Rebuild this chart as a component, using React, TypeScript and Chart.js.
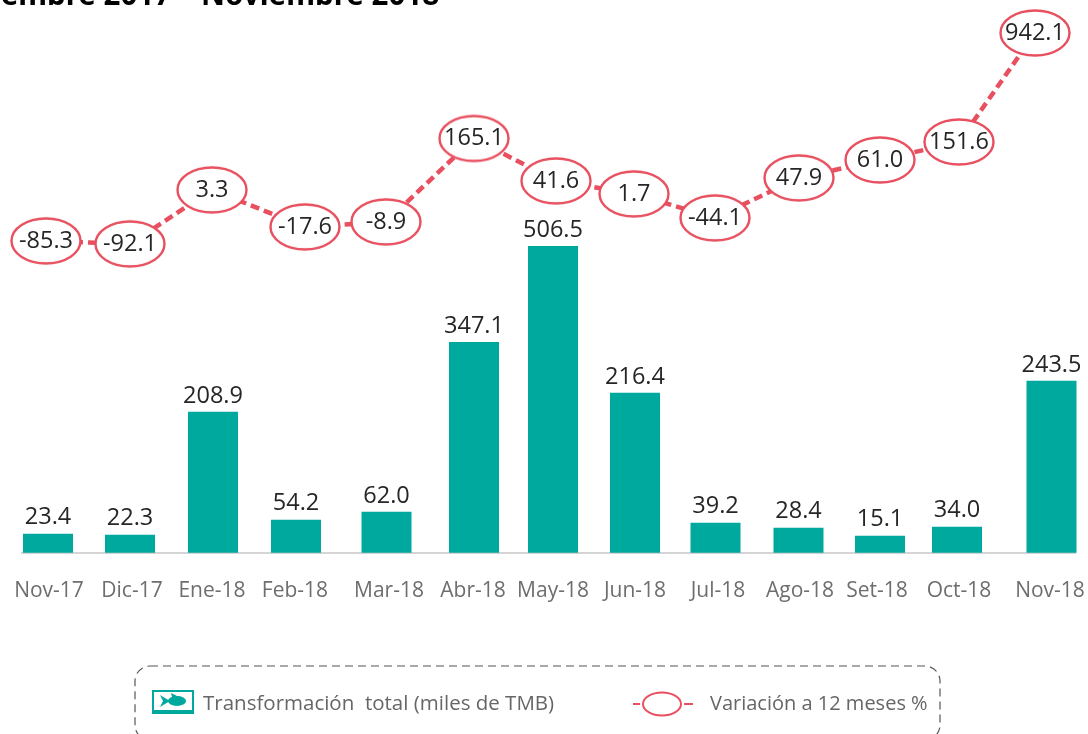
import React, { useEffect, useRef } from "react";
import { Chart, registerables, CategoryScale, LinearScale } from "chart.js";

const months = ["Nov-17", "Dic-17", "Ene-18", "Feb-18", "Mar-18", "Abr-18", "May-18", "Jun-18", "Jul-18", "Ago-18", "Set-18", "Oct-18", "Nov-18"];
const transformacion = [23.4, 22.3, 208.9, 54.2, 62.0, 347.1, 506.5, 216.4, 39.2, 28.4, 15.1, 34.0, 243.5];
const variacion = [-85.3, -92.1, 3.3, -17.6, -8.9, 165.1, 41.6, 1.7, -44.1, 47.9, 61.0, 151.6, 942.1];

// The reference is an infographic: its marks are not proportional to the printed
// values. These tables hold, per month, the height each mark has in the picture.
const barHeightsInPicture = [19, 18, 141, 33, 41, 211, 307, 160, 30, 25, 17, 26, 172];
const lineHeightsInPicture = [312, 309, 363, 326, 331, 414.5, 372, 359, 335, 375, 393, 411, 520];
// Its columns are also unevenly spaced: shifts from an even category spacing.
const barShifts = [-14.5, -13.5, -11.5, -9.5, 0, 6.5, 4.5, 5.5, 5, 7, 7.5, 3.5, 17];
const lineShifts = [-16.5, -13.5, -12.5, -0.5, -0.5, 6.5, 7.5, 4.5, 4.5, 7.5, 7.5, 5.5, 0.5];
const tickShifts = [-13.5, -11.5, -12.5, -10.5, 2.5, 5.5, 4.5, 5.5, 7.5, 8.5, 4.5, 5.5, 15.5];

const SHIFTS: Record<string, number[]> = { xBars: barShifts, xLine: lineShifts, xTicks: tickShifts };
const LEVELS: Record<string, [number[], number[]]> = {
  yBars: [transformacion, barHeightsInPicture],
  yLine: [variacion, lineHeightsInPicture],
};

class ShiftedCategoryScale extends CategoryScale {
  static id = "shiftedCategory";
  static defaults = CategoryScale.defaults;
  getPixelForValue(value: any) {
    const i = typeof value === "number" ? value : this.parse(value);
    return super.getPixelForValue(i) + ((SHIFTS[this.id] || [])[i] || 0);
  }
}

class PictureLevelScale extends LinearScale {
  static id = "pictureLevel";
  static defaults = LinearScale.defaults;
  getPixelForValue(value: any) {
    const [vals, levels] = LEVELS[this.id];
    const i = vals.indexOf(value);
    return super.getPixelForValue(i >= 0 ? levels[i] : 0);
  }
}

Chart.register(...registerables, ShiftedCategoryScale, PictureLevelScale);

const TEAL = "#00a99d";
const RED = "#e8505f";
const FONT = '"Open Sans"';

function ellipseMarker() {
  const c = document.createElement("canvas");
  c.width = 74;
  c.height = 50;
  const g = c.getContext("2d")!;
  g.beginPath();
  g.ellipse(37, 25, 34.5, 22.5, 0, 0, Math.PI * 2);
  g.fillStyle = "#fff";
  g.fill();
  g.lineWidth = 2.4;
  g.strokeStyle = RED;
  g.stroke();
  return c;
}

const annotations = {
  id: "annotations",
  afterDatasetsDraw(chart: any) {
    const { ctx } = chart;
    ctx.save();
    ctx.textAlign = "center";
    ctx.textBaseline = "middle";
    ctx.fillStyle = "#262626";
    ctx.font = `23.5px ${FONT}`;
    chart.getDatasetMeta(0).data.forEach((el: any, i: number) => {
      ctx.fillText(transformacion[i].toFixed(1), el.x, el.y - 16);
    });
    chart.getDatasetMeta(1).data.forEach((el: any, i: number) => {
      ctx.fillText(variacion[i].toFixed(1), el.x, el.y);
    });

    // Title, cut off by the top and left edges as in the reference
    ctx.textAlign = "right";
    ctx.textBaseline = "alphabetic";
    ctx.fillStyle = "#000";
    ctx.font = `bold 29.5px "Noto Sans"`;
    ctx.fillText("Noviembre 2017 – Noviembre 2018", 439, 5);

    // Legend box
    ctx.beginPath();
    ctx.roundRect(135, 666, 805, 74, 15);
    ctx.lineWidth = 1.2;
    ctx.strokeStyle = "#555";
    ctx.setLineDash([8, 5]);
    ctx.stroke();
    ctx.setLineDash([]);

    // Legend entry: bars
    ctx.fillStyle = TEAL;
    ctx.fillRect(152, 690, 42, 24);
    ctx.fillStyle = "#fff";
    ctx.fillRect(154, 692, 38, 18);
    ctx.fillStyle = TEAL;
    ctx.beginPath();
    ctx.ellipse(177, 701, 9, 5, 0, 0, Math.PI * 2);
    ctx.fill();
    ctx.beginPath();
    ctx.moveTo(170, 701);
    ctx.lineTo(160, 695);
    ctx.lineTo(163, 701);
    ctx.lineTo(160, 707);
    ctx.closePath();
    ctx.fill();
    ctx.beginPath();
    ctx.moveTo(172, 697);
    ctx.lineTo(171, 693);
    ctx.lineTo(179, 697);
    ctx.closePath();
    ctx.fill();

    // Legend entry: line
    ctx.strokeStyle = RED;
    ctx.lineWidth = 2;
    ctx.beginPath();
    ctx.moveTo(633, 704);
    ctx.lineTo(640, 704);
    ctx.moveTo(684, 704);
    ctx.lineTo(693, 704);
    ctx.stroke();
    ctx.beginPath();
    ctx.ellipse(662, 704, 19, 11.5, 0, 0, Math.PI * 2);
    ctx.stroke();

    ctx.textAlign = "left";
    ctx.textBaseline = "middle";
    ctx.fillStyle = "#666";
    ctx.font = `20.5px ${FONT}`;
    ctx.fillText(chart.data.datasets[0].label, 203, 704);
    ctx.font = `20px ${FONT}`;
    ctx.fillText(chart.data.datasets[1].label, 710, 704);
    ctx.restore();
  },
};

export default function App() {
  const ref = useRef<HTMLCanvasElement>(null);
  useEffect(() => {
    const hidden = { type: "shiftedCategory", display: false, offset: true, grid: { display: false } };
    const chart = new Chart(ref.current!, {
      data: {
        labels: months,
        datasets: [
          {
            type: "bar",
            label: "Transformación  total (miles de TMB)",
            data: transformacion,
            backgroundColor: TEAL,
            grouped: false,
            maxBarThickness: 50,
            xAxisID: "xBars",
            yAxisID: "yBars",
            clip: false,
            order: 2,
          },
          {
            type: "line",
            label: "Variación a 12 meses %",
            data: variacion,
            borderColor: RED,
            borderWidth: 4.5,
            borderDash: [9, 5],
            pointStyle: ellipseMarker(),
            xAxisID: "xLine",
            yAxisID: "yLine",
            clip: false,
            order: 1,
          },
        ],
      },
      options: {
        responsive: false,
        animation: false,
        layout: { autoPadding: false, padding: { left: 22, right: 13, top: 0, bottom: 104 } },
        plugins: { legend: { display: false }, title: { display: false }, tooltip: { enabled: false } },
        scales: {
          xBars: { ...hidden, axis: "x" },
          xLine: { ...hidden, axis: "x" },
          xTicks: {
            type: "shiftedCategory",
            axis: "x",
            position: "bottom",
            offset: true,
            grid: { display: false, drawTicks: false },
            border: { color: "#d4d4d4", width: 2 },
            afterFit(scale: any) {
              scale.paddingLeft = 0;
              scale.paddingRight = 0;
            },
            ticks: {
              autoSkip: false,
              maxRotation: 0,
              minRotation: 0,
              padding: 26,
              color: "#6e6e6e",
              font: { family: "Open Sans", size: 21 },
            },
          },
          yBars: { type: "pictureLevel", axis: "y", display: false, min: 0, max: 553 },
          yLine: { type: "pictureLevel", axis: "y", display: false, min: 0, max: 553 },
        },
      },
      plugins: [annotations],
    } as any);
    return () => chart.destroy();
  }, []);
  return (
    <div style={{ position: "absolute", left: 0, top: 0, width: 1088, height: 734, background: "#fff", overflow: "hidden" }}>
      <canvas ref={ref} width={1088} height={734} style={{ display: "block" }} />
    </div>
  );
}
